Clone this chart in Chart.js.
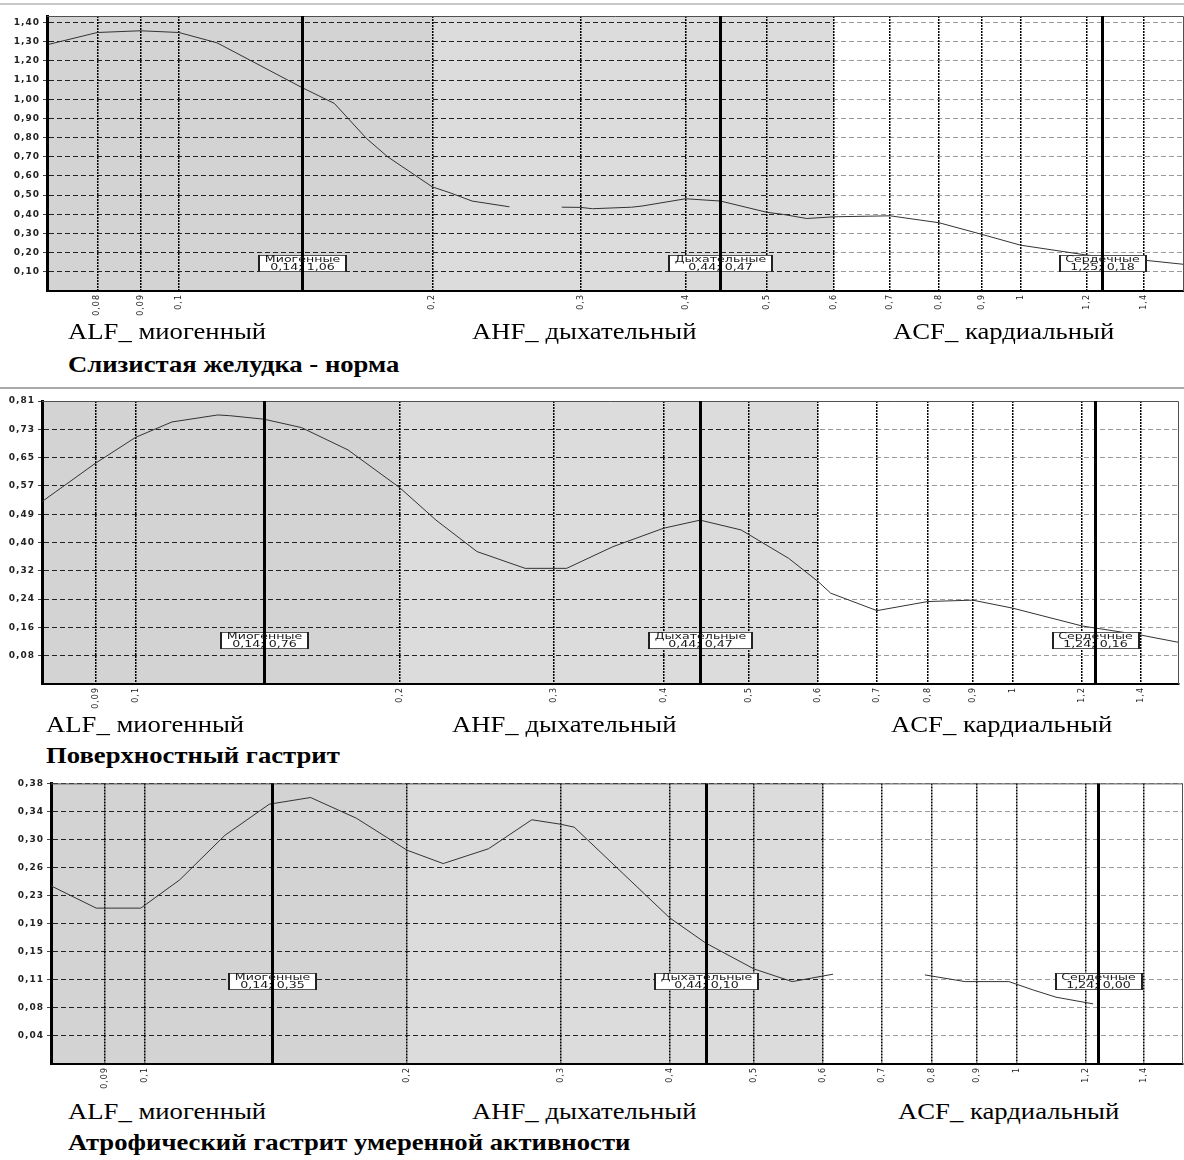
<!DOCTYPE html>
<html lang="ru">
<head>
<meta charset="utf-8">
<title>Спектральный анализ</title>
<script src="https://cdn.jsdelivr.net/npm/chart.js@4.4.1/dist/chart.umd.min.js"></script>
<style>
  body { margin: 0; background: #fff; width: 1184px; height: 1160px; position: relative; overflow: hidden; font-family: "Liberation Serif", "Times New Roman", serif; }
  .sep { position: absolute; left: 0; width: 1184px; height: 2px; z-index: 2; }
  .panel { position: absolute; left: 0; }
  .band, .title { position: absolute; font-size: 23px; line-height: 23px; color: #000; white-space: nowrap; transform: scaleX(1.16); transform-origin: 0 0; }
  .title { font-weight: bold; }
</style>
</head>
<body>

<canvas id="chart1" class="panel" style="top:0px" width="1184" height="322"></canvas>
<canvas id="chart2" class="panel" style="top:390px" width="1184" height="325"></canvas>
<canvas id="chart3" class="panel" style="top:775px" width="1184" height="320"></canvas>

<div class="sep" style="top:3px;background:#c8c8c8"></div>
<div class="sep" style="top:387px;background:#a9a9a9"></div>

<div id="labels"></div>

<script>
// frequency axis (Hz), shared by the three spectra
const xTicksA = [0.08, 0.09, 0.1, 0.2, 0.3, 0.4, 0.5, 0.6, 0.7, 0.8, 0.9, 1, 1.2, 1.4];
const xLabelsA = ['0,08', '0,09', '0,1', '0,2', '0,3', '0,4', '0,5', '0,6', '0,7', '0,8', '0,9', '1', '1,2', '1,4'];
const xTicksB = [0.09, 0.1, 0.2, 0.3, 0.4, 0.5, 0.6, 0.7, 0.8, 0.9, 1, 1.2, 1.4];
const xLabelsB = ['0,09', '0,1', '0,2', '0,3', '0,4', '0,5', '0,6', '0,7', '0,8', '0,9', '1', '1,2', '1,4'];

// band borders: ALF | AHF | ACF
const bandEdges = [0.2, 0.6];
const bandNames = ['ALF_ миогенный', 'AHF_ дыхательный', 'ACF_ кардиальный'];
const peakNames = ['Миогенные', 'Дыхательные', 'Сердечные'];

// 1. Слизистая желудка - норма
const title1 = 'Слизистая желудка - норма';
const freq1 = [0.07, 0.08, 0.09, 0.1, 0.111, 0.1225, 0.14, 0.153, 0.167, 0.177, 0.2, 0.21, 0.223, 0.247, 0.265, 0.285, 0.3, 0.31, 0.345, 0.355, 0.4, 0.44, 0.5, 0.523, 0.557, 0.6, 0.7, 0.8, 0.9, 1, 1.2, 1.4, 1.564];
const power1 = [1.286, 1.348, 1.357, 1.348, 1.294, 1.195, 1.061, 0.978, 0.796, 0.70, 0.543, 0.512, 0.469, 0.439, null, 0.437, 0.436, 0.429, 0.437, 0.443, 0.481, 0.469, 0.41, 0.399, 0.378, 0.387, 0.392, 0.356, 0.295, 0.239, 0.187, 0.161, 0.139];
const yTicks1 = [0.1, 0.2, 0.3, 0.4, 0.5, 0.6, 0.7, 0.8, 0.9, 1.0, 1.1, 1.2, 1.3, 1.4];
const yLabels1 = ['0,10', '0,20', '0,30', '0,40', '0,50', '0,60', '0,70', '0,80', '0,90', '1,00', '1,10', '1,20', '1,30', '1,40'];
const peaks1 = [0.14, 0.44, 1.25];
const peakText1 = ['0,14; 1,06', '0,44; 0,47', '1,25; 0,18'];

// 2. Поверхностный гастрит
const title2 = 'Поверхностный гастрит';
const freq2 = [0.0782, 0.09, 0.1, 0.11, 0.124, 0.128, 0.14, 0.1545, 0.1746, 0.2, 0.22, 0.245, 0.278, 0.31, 0.35, 0.4, 0.44, 0.49, 0.555, 0.6, 0.62, 0.7, 0.8, 0.9, 1, 1.2, 1.4, 1.547];
const power2 = [0.522, 0.632, 0.706, 0.75, 0.77, 0.768, 0.758, 0.734, 0.67, 0.562, 0.469, 0.379, 0.331, 0.331, 0.393, 0.446, 0.469, 0.441, 0.36, 0.293, 0.26, 0.21, 0.236, 0.24, 0.217, 0.166, 0.14, 0.119];
const yTicks2 = [0.081, 0.162, 0.243, 0.324, 0.405, 0.486, 0.567, 0.648, 0.729, 0.81];
const yLabels2 = ['0,08', '0,16', '0,24', '0,32', '0,40', '0,49', '0,57', '0,65', '0,73', '0,81'];
const peaks2 = [0.14, 0.44, 1.24];
const peakText2 = ['0,14; 0,76', '0,44; 0,47', '1,24; 0,16'];

// 3. Атрофический гастрит умеренной активности
const title3 = 'Атрофический гастрит умеренной активности';
const freq3 = [0.0781, 0.088, 0.099, 0.1097, 0.1236, 0.139, 0.155, 0.175, 0.2, 0.22, 0.248, 0.278, 0.3, 0.311, 0.4, 0.44, 0.5, 0.553, 0.616, 0.7, 0.785, 0.873, 0.98, 1.045, 1.11, 1.224];
const power3 = [0.24, 0.21, 0.21, 0.248, 0.308, 0.35, 0.359, 0.331, 0.288, 0.27, 0.29, 0.329, 0.323, 0.319, 0.197, 0.163, 0.128, 0.111, 0.121, null, 0.12, 0.111, 0.111, 0.0997, 0.09, 0.081];
const yTicks3 = [0.0378, 0.0756, 0.1134, 0.1512, 0.189, 0.2268, 0.2646, 0.3024, 0.3402, 0.378];
const yLabels3 = ['0,04', '0,08', '0,11', '0,15', '0,19', '0,23', '0,26', '0,30', '0,34', '0,38'];
const peaks3 = [0.14, 0.44, 1.24];
const peakText3 = ['0,14; 0,35', '0,44; 0,10', '1,24; 0,00'];

Chart.defaults.font.family = '"DejaVu Sans", sans-serif';

// shaded bands, frame, peak lines and their boxes
const spectrumPlugin = {
  id: 'spectrum',
  beforeDraw(chart, args, o) {
    const { ctx, chartArea: a, scales: { x } } = chart;
    const x1 = x.getPixelForValue(bandEdges[0]);
    const x2 = x.getPixelForValue(bandEdges[1]);
    ctx.save();
    ctx.fillStyle = '#d3d3d3';
    ctx.fillRect(a.left, a.top, x1 - a.left, a.bottom - a.top);
    ctx.fillStyle = '#dcdcdc';
    ctx.fillRect(x1, a.top, x2 - x1, a.bottom - a.top);
    ctx.restore();
    ctx.letterSpacing = '1px';
  },
  afterDatasetsDraw(chart, args, o) {
    const { ctx, chartArea: a, scales: { x, y } } = chart;
    ctx.save();
    ctx.letterSpacing = '0px';
    ctx.strokeStyle = '#505050';
    ctx.lineWidth = 1;
    ctx.beginPath();
    ctx.moveTo(a.left, a.top + 0.5);
    ctx.lineTo(a.right - 0.5, a.top + 0.5);
    ctx.lineTo(a.right - 0.5, a.bottom);
    ctx.stroke();

    const sx = 1.4;
    ctx.font = '9px "DejaVu Sans"';
    o.peaks.forEach((f, i) => {
      const px = Math.round(x.getPixelForValue(f)) + 0.5;
      const bottom = Math.round(y.getPixelForValue(0.1));
      const w = Math.round(Math.max(ctx.measureText(peakNames[i]).width, ctx.measureText(o.texts[i]).width) * sx + 14);
      const h = 17;
      const left = Math.round(px - w / 2);
      ctx.fillStyle = '#fff';
      ctx.fillRect(left, bottom - h, w, h);
      ctx.strokeStyle = '#555';
      ctx.lineWidth = 1;
      ctx.strokeRect(left + 0.5, bottom - h + 0.5, w - 1, h - 1);
      ctx.lineWidth = 2;
      ctx.strokeStyle = '#222';
      ctx.beginPath();
      ctx.moveTo(left + 1, bottom - h); ctx.lineTo(left + 1, bottom);
      ctx.moveTo(left + w - 1, bottom - h); ctx.lineTo(left + w - 1, bottom);
      ctx.stroke();

      ctx.strokeStyle = '#000';
      ctx.lineWidth = 3;
      ctx.beginPath();
      ctx.moveTo(px, a.top);
      ctx.lineTo(px, a.bottom);
      ctx.stroke();

      ctx.save();
      ctx.translate(px, bottom - h);
      ctx.scale(sx, 1);
      ctx.fillStyle = '#1a1a1a';
      ctx.textAlign = 'center';
      ctx.textBaseline = 'middle';
      ctx.fillText(peakNames[i], 0, 4.8);
      ctx.fillText(o.texts[i], 0, 12.3);
      ctx.restore();
    });
    ctx.restore();
  },
  afterDraw(chart) {
    chart.ctx.letterSpacing = '0px';
  }
};

function gridColor(c) {
  const ch = c.chart, a = ch.chartArea, xs = ch.scales.x;
  if (!a || !xs) return '#222';
  let cut = (xs.getPixelForValue(bandEdges[1]) - a.left) / (a.right - a.left);
  if (!isFinite(cut)) return '#222';
  cut = Math.min(1, Math.max(0, cut));
  const g = ch.ctx.createLinearGradient(a.left, 0, a.right, 0);
  g.addColorStop(0, '#222');
  g.addColorStop(cut, '#222');
  g.addColorStop(cut, '#9a9a9a');
  g.addColorStop(1, '#9a9a9a');
  return g;
}

function buildChart(id, p) {
  return new Chart(document.getElementById(id), {
    type: 'line',
    data: {
      datasets: [{
        data: p.freq.map((f, i) => ({ x: f, y: p.power[i] })),
        borderColor: '#333',
        borderWidth: 1,
        pointRadius: 0,
        tension: 0,
        spanGaps: false,
        fill: false
      }]
    },
    options: {
      responsive: false,
      animation: false,
      devicePixelRatio: 1,
      layout: { padding: { top: p.padTop, right: p.padRight, left: 0, bottom: 0 } },
      plugins: {
        legend: { display: false },
        tooltip: { enabled: false },
        spectrum: { peaks: p.peaks, texts: p.texts }
      },
      scales: {
        x: {
          type: 'logarithmic',
          min: p.xMin,
          max: p.xMax,
          afterBuildTicks: s => { s.ticks = p.xTicks.map(v => ({ value: v })); },
          afterFit: s => { s.height = 31; },
          ticks: {
            autoSkip: false, minRotation: 90, maxRotation: 90, padding: 3,
            color: '#222', font: { size: 8 },
            callback: (v, i) => p.xLabels[i]
          },
          grid: { color: '#000', lineWidth: 1.5, drawTicks: false, z: -1 },
          border: { color: '#000', width: 2, dash: [2, 1] }
        },
        y: {
          min: 0,
          max: p.yMax,
          afterBuildTicks: s => { s.ticks = p.yTicks.map(v => ({ value: v })); },
          afterFit: s => { s.width = p.plotLeft; },
          ticks: {
            padding: 3, color: '#222', font: { size: 9, weight: 'bold' },
            callback: (v, i) => p.yLabels[i]
          },
          grid: { color: gridColor, lineWidth: 1, drawTicks: true, tickLength: 4, tickColor: '#444', z: -2 },
          border: { color: '#000', width: 3, dash: [5, 3] }
        }
      }
    },
    plugins: [spectrumPlugin]
  });
}

buildChart('chart1', {
  freq: freq1, power: power1, xTicks: xTicksA, xLabels: xLabelsA, yTicks: yTicks1, yLabels: yLabels1,
  peaks: peaks1, texts: peakText1, xMin: 0.0697, xMax: 1.564, yMax: 1.434,
  plotLeft: 47, padTop: 16, padRight: 0
});
buildChart('chart2', {
  freq: freq2, power: power2, xTicks: xTicksB, xLabels: xLabelsB, yTicks: yTicks2, yLabels: yLabels2,
  peaks: peaks2, texts: peakText2, xMin: 0.0782, xMax: 1.547, yMax: 0.81,
  plotLeft: 42, padTop: 11, padRight: 5
});
buildChart('chart3', {
  freq: freq3, power: power3, xTicks: xTicksB, xLabels: xLabelsB, yTicks: yTicks3, yLabels: yLabels3,
  peaks: peaks3, texts: peakText3, xMin: 0.0781, xMax: 1.552, yMax: 0.378,
  plotLeft: 51, padTop: 8, padRight: 1
});

// captions under each panel
const captionLayout = [
  { bandX: [68, 472, 893], bandTop: 320, titleX: 68, titleTop: 353, title: title1 },
  { bandX: [46, 452, 891], bandTop: 713, titleX: 46, titleTop: 744, title: title2 },
  { bandX: [68, 472, 898], bandTop: 1100, titleX: 68, titleTop: 1131, title: title3 }
];
const holder = document.getElementById('labels');
captionLayout.forEach(c => {
  bandNames.forEach((name, i) => {
    const d = document.createElement('div');
    d.className = 'band';
    d.style.left = c.bandX[i] + 'px';
    d.style.top = c.bandTop + 'px';
    d.textContent = name;
    holder.appendChild(d);
  });
  const t = document.createElement('div');
  t.className = 'title';
  t.style.left = c.titleX + 'px';
  t.style.top = c.titleTop + 'px';
  t.textContent = c.title;
  holder.appendChild(t);
});
</script>
</body>
</html>
